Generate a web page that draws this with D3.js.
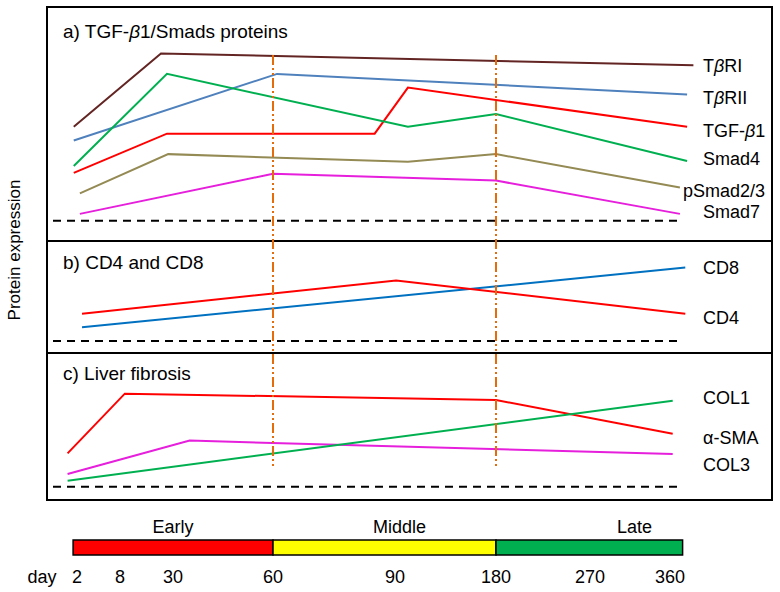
<!DOCTYPE html>
<html><head><meta charset="utf-8">
<script src="https://cdn.jsdelivr.net/npm/d3@7"></script>
<style>
body{margin:0;background:#fff;}
text{font-family:"Liberation Sans",Arial,Helvetica,sans-serif;fill:#000;}
</style></head>
<body><svg id="c" width="780" height="592"></svg>
<script>
// ---------------- DATA ----------------
const dayTicks = [2, 8, 30, 60, 90, 180, 270, 360];
const phaseNames = ["Early", "Middle", "Late"];
const phaseStart = [1.4, 60, 180];
const phaseEnd = [60, 180, 374];
const phaseLabelDay = [30, 94, 320];
const markerDays = [60, 180];

// panel a) TGF-β1/Smads proteins  — [day, relative expression]
const tbr1   = [[1.5,5.5],[25,9.8],[386,9.1]];
const tbr2   = [[1.5,4.7],[61,8.6],[379,7.4]];
const tgfb1  = [[1.5,2.8],[27.5,5.1],[85,5.1],[101.5,7.8],[379,5.5]];
const smad4  = [[1.5,3.2],[27.5,8.6],[101.5,5.5],[180,6.25],[379,3.5]];
const psmad  = [[2.4,1.6],[28,3.9],[101.5,3.45],[180,3.9],[371,1.95]];
const smad7  = [[2.4,0.4],[60,2.75],[180,2.35],[371,0.4]];
// panel b) CD4 and CD8
const cd8 = [[2.7,0.8],[377,4.3]];
const cd4 = [[2.7,1.6],[91,3.55],[377,1.6]];
// panel c) Liver fibrosis
const fibRed     = [[0.55,1.95],[10,5.45],[180,5.08],[363,3.1]];
const fibMagenta = [[0.55,0.74],[35,2.7],[363,1.92]];
const fibGreen   = [[0.55,0.35],[363,5.04]];

const panelTitles = ["a) TGF-\u03B21/Smads proteins", "b) CD4 and CD8", "c) Liver fibrosis"];
const panelA = [
  {name:"T\u03B2RI", data:tbr1, color:"#632523"},
  {name:"T\u03B2RII", data:tbr2, color:"#4F81BD"},
  {name:"TGF-\u03B21", data:tgfb1, color:"#FF0000"},
  {name:"Smad4", data:smad4, color:"#00B050"},
  {name:"pSmad2/3", data:psmad, color:"#948A54"},
  {name:"Smad7", data:smad7, color:"#E61FDC"}
];
const panelB = [
  {name:"CD8", data:cd8, color:"#0070C0"},
  {name:"CD4", data:cd4, color:"#FF0000"}
];
const panelC = [
  {name:"\u03B1-SMA", data:fibRed, color:"#FF0000"},
  {name:"COL3", data:fibMagenta, color:"#E61FDC"},
  {name:"COL1", data:fibGreen, color:"#00B050"}
];

// ---------------- LAYOUT ----------------
const box = {l:47, t:7, r:772, b:500};
const dividers = [241, 353];
const xKnots = [0, 2, 8, 30, 60, 90, 180, 270, 360, 390];
const xPix   = [64, 77, 120, 173, 273, 395, 496, 590, 670, 697];
const x = d3.scaleLinear().domain(xKnots).range(xPix);
const panels = [
  {series:panelA, base:220.7, top:50,    titleY:31,  labels:[66,98,131,159,191,212], labelX:[703,703,703,703,683,703]},
  {series:panelB, base:341,   top:170.3, titleY:262, labels:[268,318], labelX:[703,703]},
  {series:panelC, base:486.7, top:316,   titleY:373, labels:[438,465,398], labelX:[703,703,703]}
];
const phaseColors = ["#FF0000","#FFFF00","#00B050"];
const fs = 18, fsTitle = 19;

const svg = d3.select("#c");

// outer frame + dividers
svg.append("rect").attr("x",box.l).attr("y",box.t).attr("width",box.r-box.l).attr("height",box.b-box.t)
  .attr("fill","none").attr("stroke","#000").attr("stroke-width",2);
dividers.forEach(d=>svg.append("line").attr("x1",box.l).attr("x2",box.r).attr("y1",d).attr("y2",d)
  .attr("stroke","#000").attr("stroke-width",2));

// y label
svg.append("text").attr("transform","translate(14,250) rotate(-90)").attr("text-anchor","middle")
  .attr("dominant-baseline","central").attr("font-size",17).text("Protein expression");

function richText(sel, str){
  const parts = str.split(/(\u03B2)/);
  parts.forEach(p=>{ if(!p) return; const t = sel.append("tspan").text(p); if(p==="\u03B2") t.attr("font-style","italic"); });
}

const line = d3.line();
panels.forEach((p,i)=>{
  const y = d3.scaleLinear().domain([0,10]).range([p.base,p.top]);
  const g = svg.append("g");
  richText(g.append("text").attr("x",63).attr("y",p.titleY).attr("dominant-baseline","central").attr("font-size",fsTitle), panelTitles[i]);
  g.append("line").attr("x1",box.l+6).attr("x2",x(phaseEnd[2])).attr("y1",y(0)).attr("y2",y(0))
    .attr("stroke","#000").attr("stroke-width",2).attr("stroke-dasharray","8,6");
  p.series.forEach((s,j)=>{
    g.append("path").attr("d", line(s.data.map(d=>[x(d[0]), y(d[1])])))
      .attr("fill","none").attr("stroke",s.color).attr("stroke-width",2).attr("stroke-linejoin","miter");
    richText(g.append("text").attr("x",p.labelX[j]).attr("y",p.labels[j]).attr("dominant-baseline","central").attr("font-size",fs), s.name);
  });
});

// vertical phase markers
markerDays.forEach(d=>svg.append("line").attr("x1",x(d)).attr("x2",x(d)).attr("y1",55).attr("y2",467)
  .attr("stroke","#E46C0A").attr("stroke-width",2).attr("stroke-dasharray","10,3,2,3,2,3"));

// timeline bar
const barY = 540, barH = 15;
phaseNames.forEach((n,i)=>{
  svg.append("rect").attr("x",x(phaseStart[i])).attr("y",barY).attr("width",x(phaseEnd[i])-x(phaseStart[i])).attr("height",barH)
    .attr("fill",phaseColors[i]).attr("stroke","#000").attr("stroke-width",1.5);
  svg.append("text").attr("x",x(phaseLabelDay[i])).attr("y",527).attr("text-anchor","middle")
    .attr("dominant-baseline","central").attr("font-size",fs).text(n);
});
svg.append("text").attr("x",42).attr("y",577).attr("text-anchor","middle").attr("dominant-baseline","central").attr("font-size",fs).text("day");
dayTicks.forEach(d=>svg.append("text").attr("x",x(d)).attr("y",577).attr("text-anchor","middle")
  .attr("dominant-baseline","central").attr("font-size",fs).text(d));
</script></body></html>
